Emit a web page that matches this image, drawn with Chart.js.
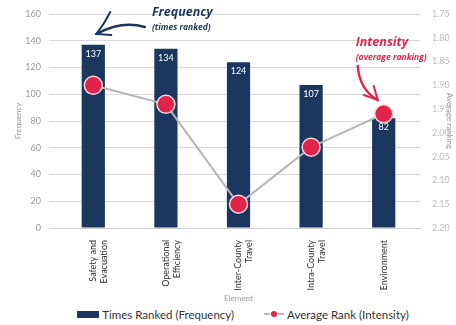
<!DOCTYPE html>
<html>
<head>
<meta charset="utf-8">
<script src="https://cdn.jsdelivr.net/npm/chart.js@4"></script>
<style>
  body { margin: 0; background: #fff; font-family: Lato, "Open Sans", sans-serif; }
  #wrap { position: relative; width: 456px; height: 305px; }
  #legend { display: flex; justify-content: center; gap: 30px; font-size: 11.5px; color: #333; height: 19px; align-items: center; padding-left: 30px; }
  .item { display: flex; align-items: center; gap: 3px; }
  .box { width: 22px; height: 7px; background: #1b365f; }
  .ln { position: relative; width: 20px; height: 2px; border-top: 2px dashed #bbb; }
  .ln::after { content: ""; position: absolute; left: 7px; top: -4px; width: 6px; height: 6px; border-radius: 50%; background: #e3244a; }
</style>
</head>
<body>
<div id="wrap"><canvas id="chart"></canvas></div>
<div id="legend">
  <div class="item"><span class="box"></span>Times Ranked (Frequency)</div>
  <div class="item"><span class="ln"></span>Average Rank (Intensity)</div>
</div>
<script>
const elements = [['Safety and', 'Evacuation'], ['Operational', 'Efficiency'], ['Inter-County', 'Travel'], ['Intra-County', 'Travel'], 'Environment'];
const timesRanked = [137, 134, 124, 107, 82];
const averageRank = [1.90, 1.94, 2.15, 2.03, 1.96];

const navy = '#1b365f';
const red = '#e3244a';

// white value labels inside the top of each bar, plus the two callouts
const extras = {
    id: 'extras',
    afterDatasetsDraw(chart) {
        const ctx = chart.ctx;
        const barMeta = chart.getDatasetMeta(1);
        ctx.save();
        ctx.fillStyle = '#fff';
        ctx.font = '9px Lato';
        ctx.textAlign = 'center';
        ctx.textBaseline = 'middle';
        barMeta.data.forEach((bar, i) => {
            ctx.fillText(timesRanked[i], bar.x, bar.y + 9);
        });

        const x = chart.scales.x;
        const top = chart.chartArea.top;

        // Frequency callout
        const fx = x.getPixelForValue(1) - 14;
        ctx.textAlign = 'left';
        ctx.fillStyle = navy;
        ctx.font = 'italic bold 12.5px "Open Sans"';
        ctx.fillText('Frequency', fx, top - 2);
        ctx.font = 'italic bold 8.5px "Open Sans"';
        ctx.fillText('(times ranked)', fx, top + 14);
        ctx.strokeStyle = navy;
        ctx.lineWidth = 2.5;
        ctx.lineCap = 'round';
        const tipX = x.getPixelForValue(0) + 3, tipY = top + 20;
        ctx.beginPath();
        ctx.moveTo(fx - 7, top + 13);
        ctx.quadraticCurveTo(fx - 30, top + 6, tipX, tipY);
        ctx.stroke();
        ctx.lineWidth = 2;
        ctx.beginPath();
        ctx.moveTo(tipX + 14, top - 2);
        ctx.quadraticCurveTo(tipX + 8, top + 10, tipX, tipY);
        ctx.lineTo(tipX + 15, tipY + 1);
        ctx.stroke();

        // Intensity callout
        const ix = x.getPixelForValue(4) - 28;
        ctx.fillStyle = red;
        ctx.font = 'italic bold 12.5px "Open Sans"';
        ctx.fillText('Intensity', ix, top + 28);
        ctx.font = 'italic bold 8.5px "Open Sans"';
        ctx.fillText('(average ranking)', ix, top + 44);
        ctx.strokeStyle = red;
        ctx.lineWidth = 2.5;
        const t2x = x.getPixelForValue(4) - 6, t2y = top + 86;
        ctx.beginPath();
        ctx.moveTo(ix + 2, top + 52);
        ctx.quadraticCurveTo(ix + 4, top + 76, t2x, t2y);
        ctx.stroke();
        ctx.lineWidth = 2;
        ctx.beginPath();
        ctx.moveTo(t2x - 14, t2y - 5);
        ctx.lineTo(t2x, t2y);
        ctx.lineTo(t2x - 4, t2y - 14);
        ctx.stroke();
        ctx.restore();
    }
};

const ctx = document.getElementById('chart').getContext('2d');
new Chart(ctx, {
    data: {
        labels: elements,
        datasets: [{
            type: 'line',
            label: 'Average Rank (Intensity)',
            data: averageRank,
            yAxisID: 'y1',
            borderColor: '#b5b5b5',
            borderWidth: 2,
            pointRadius: 9,
            pointBackgroundColor: red,
            pointBorderColor: '#f4d6dc',
            pointBorderWidth: 1.5,
            order: 0
        }, {
            type: 'bar',
            label: 'Times Ranked (Frequency)',
            data: timesRanked,
            yAxisID: 'y',
            backgroundColor: navy,
            categoryPercentage: 1,
            barPercentage: 0.32,
            order: 1
        }]
    },
    options: {
        responsive: true,
        maintainAspectRatio: false,
        animation: false,
        layout: { padding: { left: 10, right: 2, top: 14, bottom: 2 } },
        plugins: { legend: { display: false }, tooltip: { enabled: false } },
        scales: {
            x: {
                grid: { display: false },
                border: { color: '#d0d0d0' },
                afterFit: s => { s.height = 75; },
                ticks: { color: '#333', font: { family: 'Lato', size: 9 }, maxRotation: 90, minRotation: 90, padding: 4 },
                title: { display: true, text: 'Element', color: '#999', font: { family: 'Lato', size: 8 }, padding: { top: 2, bottom: 0 } }
            },
            y: {
                position: 'left',
                min: 0,
                max: 160,
                afterFit: s => { s.width = 47; },
                ticks: { stepSize: 20, color: '#999', font: { family: 'Lato', size: 9 }, padding: 8 },
                grid: { color: '#d9d9d9' },
                border: { display: false },
                title: { display: true, text: 'Frequency', color: '#999', font: { family: 'Lato', size: 8 }, padding: 4 }
            },
            y1: {
                position: 'right',
                reverse: true,
                min: 1.75,
                max: 2.20,
                afterFit: s => { s.width = 34; },
                ticks: { stepSize: 0.05, color: '#bbb', font: { family: 'Lato', size: 9 }, padding: 4, callback: v => v.toFixed(2) },
                grid: { drawOnChartArea: false, display: false },
                border: { display: false },
                title: { display: true, text: 'Average ranking', color: '#999', font: { family: 'Lato', size: 8 }, padding: 0 }
            }
        }
    },
    plugins: [extras]
});
</script>
</body>
</html>
